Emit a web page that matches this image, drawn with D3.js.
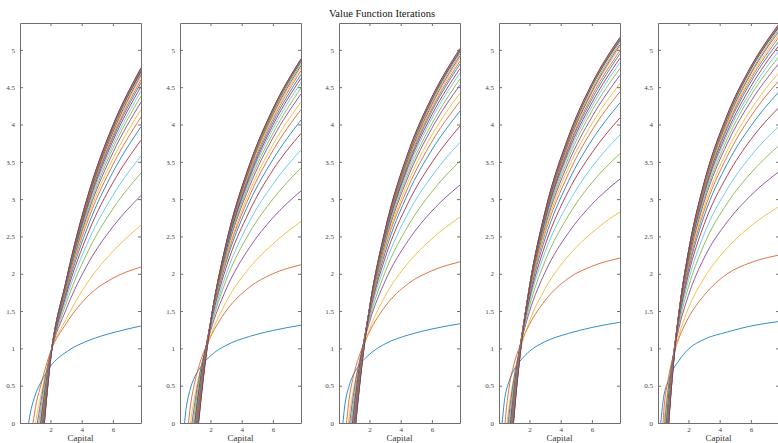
<!DOCTYPE html>
<html>
<head>
<meta charset="UTF-8">
<title>Value Function Iterations</title>
<script src="https://d3js.org/d3.v7.min.js"></script>
<style>
  body { margin: 0; background: #fff; }
  svg text { font-family: "Liberation Serif", "DejaVu Serif", serif; }
</style>
</head>
<body>
<div id="chart"></div>
<script>
// capital grid shared by every curve
const capital = [0.2, 0.4, 0.7, 1.0, 1.4, 2.0, 3.0, 4.5, 6.0, 7.8];

// one row per iteration, values at the capital grid (null = not drawn)
const panel1 = [
  [null,-0.30,0.12,0.36,0.55,0.76,0.95,1.11,1.21,1.30],
  [null,-1.50,-0.35,0.16,0.52,0.95,1.33,1.72,1.94,2.09],
  [null,null,-0.54,-0.06,0.38,0.93,1.39,1.92,2.30,2.65],
  [null,null,-0.81,-0.24,0.30,0.93,1.52,2.17,2.63,3.05],
  [null,null,-1.06,-0.41,0.21,0.92,1.60,2.34,2.87,3.35],
  [null,null,-1.28,-0.56,0.12,0.91,1.66,2.47,3.05,3.58],
  [null,null,null,-0.69,0.05,0.90,1.71,2.59,3.22,3.79],
  [null,null,null,-0.80,-0.02,0.90,1.75,2.69,3.36,3.97],
  [null,null,null,-0.88,-0.07,0.89,1.78,2.77,3.46,4.10],
  [null,null,null,-0.97,-0.12,0.89,1.80,2.82,3.54,4.20],
  [null,null,null,-1.04,-0.16,0.88,1.82,2.87,3.62,4.30],
  [null,null,null,-1.10,-0.20,0.88,1.83,2.91,3.68,4.38],
  [null,null,null,-1.16,-0.24,0.88,1.84,2.95,3.73,4.45],
  [null,null,null,-1.20,-0.27,0.87,1.86,2.98,3.78,4.51],
  [null,null,null,-1.24,-0.29,0.87,1.86,3.01,3.82,4.56],
  [null,null,null,-1.27,-0.31,0.87,1.87,3.03,3.85,4.60],
  [null,null,null,-1.31,-0.33,0.86,1.88,3.05,3.88,4.64],
  [null,null,null,-1.34,-0.36,0.86,1.88,3.06,3.90,4.67],
  [null,null,null,-1.37,-0.38,0.86,1.88,3.07,3.93,4.70],
  [null,null,null,-1.41,-0.40,0.85,1.88,3.09,3.96,4.72],
  [null,null,null,-1.44,-0.42,0.85,1.88,3.08,3.95,4.71],
  [null,null,null,-1.46,-0.44,0.85,1.89,3.09,3.96,4.72],
  [null,null,null,-1.48,-0.45,0.85,1.89,3.10,3.97,4.73],
  [null,null,null,-1.50,-0.47,0.84,1.89,3.10,3.97,4.74],
  [null,null,null,-1.52,-0.48,0.84,1.90,3.11,3.98,4.74],
  [null,null,null,-1.54,-0.50,0.84,1.90,3.11,3.98,4.75],
  [null,null,null,-1.56,-0.51,0.84,1.90,3.12,3.99,4.75],
  [null,null,null,-1.58,-0.52,0.83,1.90,3.12,3.99,4.76]
];
const panel2 = [
  [-0.35,0.12,0.45,0.62,0.76,0.90,1.04,1.16,1.24,1.31],
  [null,-0.45,0.20,0.55,0.85,1.15,1.50,1.82,2.00,2.12],
  [null,-0.67,-0.03,0.37,0.75,1.16,1.62,2.08,2.40,2.70],
  [null,-0.99,-0.22,0.27,0.74,1.23,1.79,2.35,2.75,3.11],
  [null,-1.28,-0.40,0.17,0.70,1.26,1.91,2.55,3.00,3.42],
  [null,null,-0.55,0.07,0.66,1.28,1.99,2.70,3.20,3.66],
  [null,null,-0.67,0.00,0.64,1.31,2.08,2.84,3.39,3.88],
  [null,null,-0.78,-0.06,0.61,1.33,2.15,2.96,3.53,4.06],
  [null,null,-0.87,-0.12,0.58,1.34,2.19,3.04,3.65,4.20],
  [null,null,-0.97,-0.19,0.55,1.33,2.21,3.10,3.73,4.30],
  [null,null,-1.02,-0.21,0.54,1.35,2.26,3.17,3.82,4.41],
  [null,null,-1.09,-0.26,0.52,1.34,2.28,3.22,3.88,4.49],
  [null,null,-1.16,-0.31,0.49,1.33,2.30,3.26,3.94,4.56],
  [null,null,-1.20,-0.34,0.47,1.34,2.32,3.29,3.99,4.62],
  [null,null,-1.24,-0.36,0.46,1.33,2.33,3.32,4.03,4.67],
  [null,null,-1.27,-0.38,0.46,1.34,2.35,3.35,4.07,4.72],
  [null,null,-1.29,-0.39,0.45,1.34,2.36,3.38,4.10,4.76],
  [null,null,-1.33,-0.42,0.43,1.34,2.37,3.40,4.13,4.79],
  [null,null,-1.36,-0.45,0.42,1.33,2.37,3.41,4.15,4.82],
  [null,null,-1.40,-0.47,0.40,1.33,2.38,3.43,4.18,4.84],
  [null,null,-1.42,-0.48,0.39,1.33,2.38,3.43,4.18,4.85],
  [null,null,-1.44,-0.49,0.38,1.33,2.38,3.43,4.18,4.86],
  [null,null,-1.46,-0.51,0.37,1.33,2.39,3.44,4.19,4.86],
  [null,null,-1.48,-0.52,0.36,1.33,2.39,3.44,4.19,4.87],
  [null,null,-1.50,-0.53,0.35,1.33,2.39,3.45,4.20,4.87],
  [null,null,-1.52,-0.55,0.34,1.32,2.40,3.45,4.20,4.87],
  [null,null,-1.54,-0.56,0.33,1.32,2.40,3.46,4.21,4.88],
  [null,null,-1.56,-0.57,0.32,1.32,2.40,3.46,4.21,4.88]
];
const panel3 = [
  [-0.25,0.20,0.50,0.66,0.79,0.92,1.06,1.18,1.26,1.33],
  [null,-0.30,0.32,0.65,0.93,1.22,1.56,1.87,2.04,2.16],
  [null,-0.54,0.08,0.48,0.85,1.25,1.70,2.15,2.47,2.76],
  [null,-0.83,-0.08,0.41,0.86,1.35,1.90,2.45,2.84,3.19],
  [null,-1.12,-0.25,0.31,0.83,1.39,2.02,2.65,3.10,3.51],
  [null,-1.33,-0.37,0.24,0.81,1.43,2.12,2.82,3.31,3.76],
  [null,-1.52,-0.49,0.17,0.80,1.46,2.21,2.96,3.49,3.98],
  [null,-1.72,-0.61,0.10,0.77,1.48,2.28,3.09,3.66,4.18],
  [null,-1.83,-0.68,0.06,0.76,1.50,2.34,3.17,3.77,4.31],
  [null,-1.97,-0.77,0.00,0.72,1.49,2.36,3.24,3.86,4.42],
  [null,-2.05,-0.81,-0.02,0.72,1.51,2.41,3.31,3.95,4.53],
  [null,-2.15,-0.88,-0.07,0.70,1.51,2.44,3.36,4.01,4.61],
  [null,-2.22,-0.92,-0.09,0.69,1.52,2.47,3.41,4.08,4.69],
  [null,-2.29,-0.96,-0.12,0.68,1.53,2.49,3.45,4.13,4.75],
  [null,-2.35,-1.00,-0.14,0.67,1.53,2.51,3.48,4.18,4.81],
  [null,-2.40,-1.04,-0.17,0.66,1.53,2.52,3.51,4.21,4.85],
  [null,-2.46,-1.07,-0.19,0.64,1.52,2.53,3.53,4.24,4.89],
  [null,-2.49,-1.09,-0.20,0.63,1.53,2.54,3.55,4.27,4.92],
  [null,-2.53,-1.12,-0.22,0.63,1.53,2.55,3.57,4.30,4.95],
  [null,-2.58,-1.16,-0.24,0.61,1.53,2.56,3.60,4.33,4.97],
  [null,-2.60,-1.17,-0.25,0.60,1.53,2.56,3.60,4.33,4.98],
  [null,-2.62,-1.18,-0.26,0.60,1.53,2.57,3.61,4.34,4.99],
  [null,-2.64,-1.19,-0.27,0.59,1.53,2.57,3.61,4.34,4.99],
  [null,-2.66,-1.20,-0.28,0.58,1.53,2.57,3.62,4.35,5.00],
  [null,-2.68,-1.21,-0.29,0.58,1.53,2.58,3.62,4.35,5.00],
  [null,-2.70,-1.22,-0.30,0.57,1.53,2.58,3.63,4.36,5.01],
  [null,-2.72,-1.23,-0.31,0.56,1.53,2.58,3.63,4.36,5.01],
  [null,-2.74,-1.24,-0.32,0.55,1.52,2.58,3.64,4.37,5.02]
];
const panel4 = [
  [-0.12,0.30,0.56,0.71,0.83,0.96,1.09,1.20,1.28,1.35],
  [-0.90,-0.12,0.48,0.78,1.04,1.32,1.64,1.94,2.10,2.21],
  [-1.13,-0.38,0.22,0.61,0.97,1.36,1.80,2.24,2.55,2.83],
  [-1.52,-0.61,0.12,0.58,1.02,1.49,2.02,2.55,2.93,3.27],
  [-1.91,-0.86,-0.02,0.52,1.02,1.56,2.17,2.78,3.22,3.61],
  [-2.18,-1.04,-0.11,0.47,1.03,1.62,2.29,2.95,3.43,3.86],
  [null,-1.22,-0.22,0.42,1.02,1.66,2.38,3.11,3.62,4.09],
  [null,-1.37,-0.30,0.38,1.02,1.70,2.47,3.24,3.79,4.29],
  [null,-1.48,-0.36,0.35,1.02,1.73,2.54,3.34,3.92,4.44],
  [null,-1.58,-0.43,0.31,1.00,1.74,2.58,3.42,4.01,4.55],
  [null,-1.65,-0.46,0.30,1.01,1.77,2.63,3.49,4.10,4.66],
  [null,-1.75,-0.53,0.26,0.99,1.77,2.66,3.55,4.18,4.75],
  [null,-1.81,-0.56,0.24,0.99,1.79,2.69,3.60,4.24,4.83],
  [null,-1.87,-0.60,0.21,0.98,1.79,2.72,3.64,4.29,4.89],
  [null,-1.93,-0.63,0.19,0.97,1.80,2.74,3.68,4.34,4.95],
  [null,-1.96,-0.65,0.18,0.97,1.80,2.75,3.70,4.38,4.99],
  [null,-2.00,-0.67,0.17,0.97,1.81,2.78,3.74,4.42,5.04],
  [null,-2.05,-0.71,0.15,0.95,1.81,2.78,3.75,4.44,5.07],
  [null,-2.08,-0.73,0.14,0.95,1.81,2.79,3.77,4.47,5.10],
  [null,-2.12,-0.75,0.13,0.95,1.82,2.81,3.80,4.51,5.12],
  [null,-2.14,-0.76,0.12,0.94,1.82,2.81,3.80,4.51,5.13],
  [null,-2.16,-0.77,0.11,0.94,1.82,2.81,3.81,4.52,5.14],
  [null,-2.18,-0.78,0.10,0.93,1.82,2.82,3.81,4.52,5.14],
  [null,-2.20,-0.79,0.09,0.93,1.82,2.82,3.82,4.53,5.15],
  [null,-2.22,-0.80,0.08,0.92,1.82,2.82,3.82,4.53,5.15],
  [null,-2.24,-0.81,0.07,0.92,1.82,2.83,3.83,4.54,5.16],
  [null,-2.26,-0.82,0.06,0.91,1.82,2.83,3.83,4.54,5.16],
  [null,-2.28,-0.83,0.05,0.90,1.81,2.83,3.84,4.55,5.17]
];
const panel5 = [
  [-0.05,0.33,0.56,0.71,0.84,0.99,1.12,1.22,1.30,1.36],
  [-0.75,0.10,0.58,0.88,1.14,1.41,1.71,2.00,2.15,2.25],
  [-0.77,-0.07,0.49,0.84,1.18,1.54,1.94,2.35,2.64,2.90],
  [-1.09,-0.25,0.43,0.87,1.28,1.71,2.21,2.70,3.05,3.37],
  [-1.38,-0.42,0.36,0.86,1.33,1.82,2.39,2.95,3.35,3.72],
  [-1.59,-0.54,0.31,0.86,1.37,1.91,2.53,3.14,3.58,3.98],
  [-1.81,-0.67,0.25,0.84,1.40,1.99,2.66,3.32,3.80,4.23],
  [-1.98,-0.77,0.21,0.84,1.43,2.05,2.77,3.48,3.98,4.44],
  [-2.13,-0.86,0.16,0.82,1.44,2.09,2.84,3.58,4.11,4.59],
  [-2.23,-0.92,0.14,0.82,1.45,2.13,2.89,3.66,4.20,4.70],
  [-2.33,-0.98,0.11,0.81,1.47,2.16,2.96,3.75,4.31,4.82],
  [-2.42,-1.03,0.09,0.80,1.47,2.19,3.00,3.81,4.39,4.91],
  [-2.50,-1.09,0.06,0.79,1.48,2.21,3.04,3.87,4.45,4.99],
  [-2.58,-1.14,0.03,0.77,1.48,2.22,3.07,3.91,4.51,5.06],
  [-2.64,-1.17,0.01,0.77,1.48,2.24,3.10,3.96,4.57,5.12],
  [-2.69,-1.20,0.00,0.77,1.49,2.25,3.12,3.99,4.61,5.17],
  [-2.73,-1.23,-0.02,0.76,1.49,2.26,3.14,4.02,4.64,5.21],
  [-2.78,-1.26,-0.03,0.75,1.49,2.27,3.16,4.05,4.68,5.25],
  [-2.81,-1.28,-0.05,0.74,1.48,2.27,3.17,4.07,4.70,5.28],
  [-2.87,-1.31,-0.06,0.74,1.49,2.29,3.19,4.10,4.74,5.30],
  [-2.89,-1.32,-0.07,0.73,1.49,2.29,3.19,4.10,4.74,5.31],
  [-2.91,-1.33,-0.08,0.73,1.49,2.29,3.20,4.11,4.75,5.32],
  [-2.93,-1.34,-0.09,0.72,1.48,2.29,3.20,4.11,4.75,5.32],
  [-2.95,-1.35,-0.10,0.72,1.48,2.29,3.20,4.12,4.76,5.33],
  [-2.97,-1.36,-0.11,0.71,1.48,2.29,3.21,4.12,4.76,5.33],
  [-2.99,-1.37,-0.12,0.70,1.48,2.29,3.21,4.13,4.77,5.34],
  [-3.01,-1.38,-0.13,0.70,1.47,2.29,3.21,4.13,4.77,5.34],
  [-3.03,-1.39,-0.14,0.69,1.47,2.29,3.22,4.14,4.78,5.35]
];
const panels = [panel1, panel2, panel3, panel4, panel5];

const yTicks = [0, 0.5, 1, 1.5, 2, 2.5, 3, 3.5, 4, 4.5, 5];
const xTicks = [2, 4, 6];
const colors = ["#0072BD", "#D95319", "#EDB120", "#7E2F8E", "#77AC30", "#4DBEEE", "#A2142F"];

const width = 778, height = 443;
const axW = 121, axH = 400, axTop = 23;
const lefts = [20, 180, 339, 499, 658];

const svg = d3.select("#chart")
  .append("svg")
  .attr("width", width)
  .attr("height", height);

svg.append("text")
  .attr("x", 382)
  .attr("y", 16.5)
  .attr("text-anchor", "middle")
  .style("font-size", "10.5px")
  .style("fill", "#111")
  .text("Value Function Iterations");

const x = d3.scaleLinear().domain([0.05, 7.8]).range([0, axW]);
const y = d3.scaleLinear().domain([0, 5.36]).range([axH, 0]);

const line = d3.line()
  .defined(d => d[1] !== null)
  .x(d => x(d[0]))
  .y(d => y(d[1]))
  .curve(d3.curveMonotoneX);

function styleAxis(sel) {
  sel.selectAll("path, line").attr("stroke", "#6e6e6e");
  sel.selectAll("text").style("font-size", "7px").style("fill", "#444");
}

panels.forEach(function(curves, i) {
  const g = svg.append("g").attr("transform", "translate(" + lefts[i] + "," + axTop + ")");

  g.append("clipPath").attr("id", "clip" + i)
    .append("rect").attr("width", axW).attr("height", axH);

  const plot = g.append("g").attr("clip-path", "url(#clip" + i + ")");
  curves.forEach(function(vals, j) {
    plot.append("path")
      .datum(capital.map((k, m) => [k, vals[m]]))
      .attr("fill", "none")
      .attr("stroke", colors[j % colors.length])
      .attr("stroke-width", 1)
      .attr("stroke-opacity", 0.8)
      .attr("d", line);
  });

  g.append("g")
    .call(d3.axisLeft(y).tickValues(yTicks).tickSize(-3).tickSizeOuter(0).tickPadding(5).tickFormat(d => d))
    .call(styleAxis);
  g.append("g")
    .attr("transform", "translate(" + axW + ",0)")
    .call(d3.axisRight(y).tickValues(yTicks).tickSize(-3).tickSizeOuter(0).tickFormat(""))
    .call(styleAxis);
  g.append("g")
    .attr("transform", "translate(0," + axH + ")")
    .call(d3.axisBottom(x).tickValues(xTicks).tickSize(-3).tickSizeOuter(0).tickPadding(4).tickFormat(d => d))
    .call(styleAxis);
  g.append("g")
    .call(d3.axisTop(x).tickValues(xTicks).tickSize(-3).tickSizeOuter(0).tickFormat(""))
    .call(styleAxis);

  g.append("text")
    .attr("x", axW / 2)
    .attr("y", axH + 18)
    .attr("text-anchor", "middle")
    .style("font-size", "9px")
    .style("fill", "#333")
    .text("Capital");
});
</script>
</body>
</html>
